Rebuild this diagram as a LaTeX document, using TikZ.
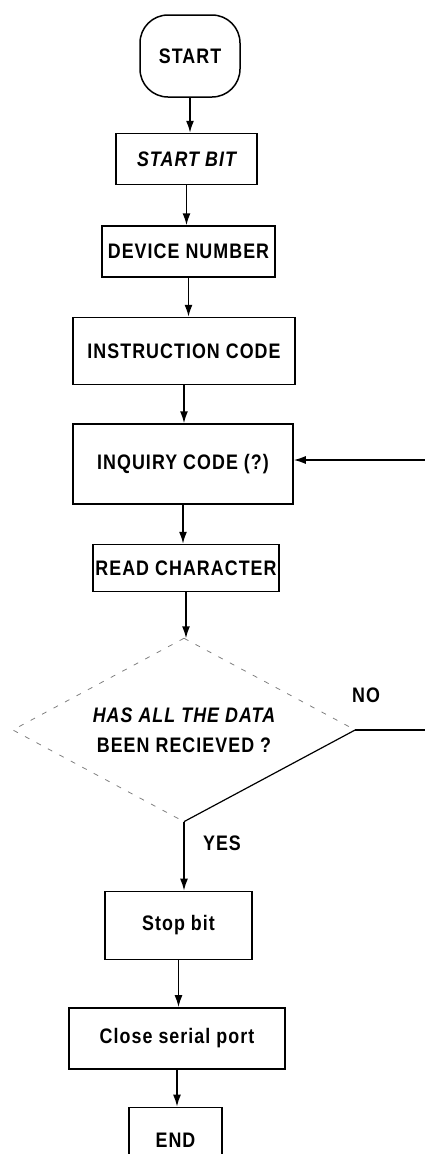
\documentclass[tikz,border=0pt]{standalone}
\usepackage{fontspec}
\setmainfont{Liberation Sans}[FakeStretch=0.85,LetterSpace=5]
\usetikzlibrary{arrows.meta,positioning,shapes.geometric}
\newcommand{\chartfont}{\fontsize{21}{30}\selectfont\bfseries}
\tikzset{
  terminal/.style={draw,line width=1.5pt,rounded corners=28pt,align=center,
    minimum width=100pt,minimum height=82pt,inner sep=0pt,font=\chartfont},
  process/.style={draw,line width=1.5pt,align=center,inner sep=0pt,font=\chartfont},
  decision/.style={diamond,aspect=1.87,inner sep=0pt,align=center,
    minimum width=342pt,minimum height=183pt,font=\chartfont},
  faintedge/.style={draw=black!50,line width=0.8pt,dash pattern=on 5pt off 8pt},
  solidedge/.style={draw,line width=1.2pt},
  answer/.style={font=\chartfont},
  arrow/.style={-{Latex[length=12pt,width=8pt]},draw,line width=1.5pt}
}

\begin{document}
\begin{tikzpicture}[x=1pt,y=1pt]
  \useasboundingbox (0,0) rectangle (425,-1154);
  \node[terminal] (start) at (190,-56) {START};
  \node[process,minimum width=141pt,minimum height=51pt,below=35pt of start,xshift=-3.5pt] (startbit) {\itshape START BIT};
  \node[process,minimum width=173pt,minimum height=51pt,below=40pt of startbit,xshift=2pt] (device) {DEVICE NUMBER};
  \node[process,minimum width=222pt,minimum height=67pt,below=39pt of device,xshift=-4.5pt] (instr) {INSTRUCTION CODE};
  \node[process,minimum width=220pt,minimum height=80pt,below=38pt of instr,xshift=-1pt] (inquiry) {INQUIRY CODE (?)};
  \node[process,minimum width=186pt,minimum height=47pt,below=39pt of inquiry,xshift=3pt] (readchar) {READ CHARACTER};
  \node[decision,below=46pt of readchar,xshift=-2pt] (check) {\itshape HAS ALL THE DATA\\BEEN RECIEVED ?};
  \node[process,minimum width=147pt,minimum height=68pt,below=69pt of check,xshift=-5.5pt] (stopbit) {Stop bit};
  \node[process,minimum width=216pt,minimum height=61pt,below=47pt of stopbit,xshift=-1.5pt] (close) {Close serial port};
  \node[process,minimum width=93pt,minimum height=65pt,below=37pt of close,xshift=-1.5pt] (finish) {END};
  \node[answer] (yes) at (222,-843) {YES};
  \node[answer] (no) at (366,-695) {NO};

  % diamond outline, faded on three sides as in the scan
  \draw[faintedge] (check.north) -- (check.west) -- (check.south);
  \draw[faintedge] (check.north) -- (check.east);
  \draw[solidedge] (check.east) -- (check.south);

  \draw[arrow] (start) -- (start |- startbit.north);
  \draw[arrow] (startbit) -- (startbit |- device.north);
  \draw[arrow] (device) -- (device |- instr.north);
  \draw[arrow] (instr) -- (instr |- inquiry.north);
  \draw[arrow] (inquiry) -- (inquiry |- readchar.north);
  \draw[arrow] (readchar) -- (readchar |- check.north);
  \draw[arrow] (check.south) -- (check.south |- stopbit.north);
  \draw[arrow] (stopbit) -- (stopbit |- close.north);
  \draw[arrow] (close) -- (close |- finish.north);
  % NO branch back to the inquiry
  \draw[arrow] (check.east) -- ++(85,0) |- ([yshift=4pt]inquiry.east);
\end{tikzpicture}
\end{document}
